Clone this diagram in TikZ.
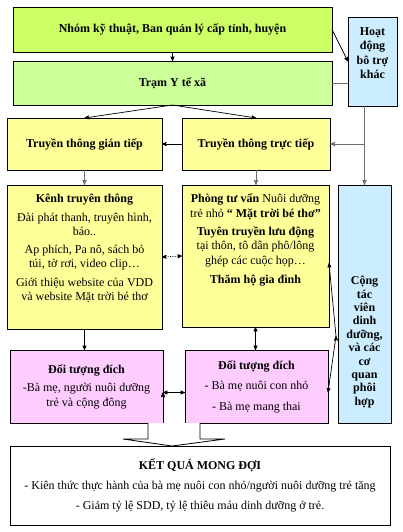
\documentclass[tikz,border=0pt]{standalone}
\usepackage{fontspec}
\setmainfont{Liberation Serif}
\usetikzlibrary{arrows,positioning,calc}
\definecolor{greenA}{HTML}{CCFF66}
\definecolor{greenB}{HTML}{CCFF99}
\definecolor{yellowA}{HTML}{FFFF99}
\definecolor{pinkA}{HTML}{FFCCFF}
\definecolor{blueA}{HTML}{CCECFF}
\definecolor{linkgray}{HTML}{6E6E6E}

\begin{document}
\begin{tikzpicture}[x=1pt,y=-1pt,>=stealth',font=\fontsize{12}{14.5}\selectfont,
  box/.style={draw,rectangle,anchor=north west,inner sep=0pt,outer sep=0pt,align=center,line width=0.8pt},
  txt/.style={align=center,inner sep=0pt},
  graylink/.style={draw=linkgray,line width=0.9pt},
  link/.style={draw,line width=0.7pt}]

\useasboundingbox (0,0) rectangle (403,532);

\node[box,fill=greenA,minimum width=319,minimum height=45] (nhom) at (13,7) {\textbf{Nhóm kỹ thuật, Ban quản lý cấp tỉnh, huyện}};
\node[box,fill=greenB,minimum width=319,minimum height=44] (tram) at (13,61) {\textbf{Trạm Y tế xã}};
\node[box,fill=blueA,minimum width=49,minimum height=89] (hoatdong) at (348,17) {};
\node[txt,font=\fontsize{12}{14.5}\selectfont\bfseries,anchor=north] (hoatdongtxt) at ([yshift=-10pt]hoatdong.north) {Hoạt\\động\\bô trợ\\khác};

\node[box,fill=yellowA,minimum width=155,minimum height=52] (gian) at (7,118) {\textbf{Truyền thông gián tiếp}};
\node[box,fill=yellowA,minimum width=148,minimum height=52] (truc) at (182,118) {\textbf{Truyền thông trực tiếp}};

\node[box,fill=yellowA,minimum width=155,minimum height=144] (kenh) at (7,185) {};
\node[txt,font=\fontsize{12}{14}\selectfont,anchor=north] (kenhtxt) at ([yshift=-9pt]kenh.north) {\textbf{Kênh truyên thông}\\[5pt]
  Đài phát thanh, truyên hình,\\báo..\\[4pt]
  Ap phích, Pa nô, sách bỏ\\túi, tờ rơi, video clip…\\[5pt]
  Giới thiệu website của VDD\\và website Mặt trời bé thơ};

\node[box,fill=yellowA,minimum width=147,minimum height=142] (phong) at (182,185) {};
\node[txt,anchor=north] (phongtxt) at ([yshift=-9pt]phong.north) {\textbf{Phòng tư vấn} Nuôi dưỡng\\trẻ nhỏ \textbf{“ Mặt trời bé thơ”}\\[3.5pt]
  \textbf{Tuyên truyền lưu động}\\tại thôn, tô dân phô/lông\\ghép các cuộc họp…\\[5pt]
  \textbf{Thăm hộ gia đình}};

\node[box,fill=blueA,minimum width=53,minimum height=238] (ctv) at (338,185) {};
\node[txt,font=\fontsize{12}{13.4}\selectfont\bfseries,anchor=south] (ctvtxt) at ([yshift=15pt]ctv.south) {Cộng\\tác\\viên\\dinh\\dưỡng,\\và các\\cơ\\quan\\phôi\\hợp};

\node[box,fill=pinkA,minimum width=153,minimum height=73] (dtA) at (10,350) {\textbf{Đối tượng đích}\\[4pt]-Bà mẹ, người nuôi dưỡng\\trẻ và cộng đông};
\node[box,fill=pinkA,minimum width=143,minimum height=73] (dtB) at (185,350) {\textbf{Đối tượng đích}\\[6pt]- Bà mẹ nuôi con nhỏ\\[6pt]- Bà mẹ mang thai};

\node[box,fill=white,minimum width=380,minimum height=79] (ketqua) at (10,446) {\textbf{KẾT QUẢ MONG ĐỢI}\\[5.5pt]
  - Kiên thức thực hành của bà mẹ nuôi con nhỏ/người nuôi dưỡng trẻ tăng\\[5.5pt]
  - Giảm tỷ lệ SDD, tỷ lệ thiêu máu dinh dưỡng ở trẻ.};

% block arrow down to the results
\draw[line width=0.8pt,fill=white] (148,423) -- (148,439) -- (123,439) -- (172,446) -- (225,439) -- (200,439) -- (200,423);

\coordinate (branch) at (ctv.north |- truc.east);
\coordinate (ctvjoin) at (336,336);

\path[->,link] (nhom.south) edge (tram.north)
(nhom.east) edge (hoatdong.west)
(tram.south) edge (gian.north)
edge (truc.north)
(truc.west) edge (gian.east)
(kenh.south) edge (kenh.south |- dtA.north)
(ctvjoin) edge ([yshift=-7pt]phong.east)
edge ([yshift=-6pt]dtB.east);

\path[<->,link] (phong.south) edge (phong.south |- dtB.north)
([yshift=-6pt]dtA.east) edge ([yshift=-6pt]dtB.west);

\draw[<->,link,densely dotted] (kenh.east) -- (phong.west);

\draw[graylink] (tram.east) -- (tram.east -| hoatdong.west);
\draw[graylink,->] (hoatdong.south -| ctv.north) -- (ctv.north);
\draw[graylink,->] (branch) -- (truc.east);
\draw[graylink,->] (gian.south) -- (kenh.north);
\draw[graylink,->] (truc.south) -- (truc.south |- phong.north);
\end{tikzpicture}
\end{document}
